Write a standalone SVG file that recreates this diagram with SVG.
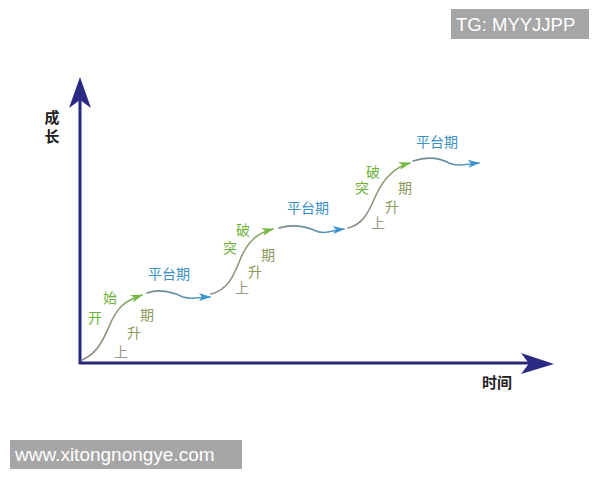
<svg xmlns="http://www.w3.org/2000/svg" width="600" height="480" viewBox="0 0 600 480">
<defs>
<style>
.axis{stroke:#28287a;stroke-width:3;fill:none}
.head{fill:#2b2b85}
.curve{fill:none;stroke-width:1.6;stroke-linecap:round}
.up{stroke:url(#gUp)}
.flat{stroke:url(#gFlat)}
.lab{font-family:"Noto Sans CJK SC","Noto Sans",sans-serif;font-size:14px;text-anchor:middle}
.g1{fill:#6fb23a}
.g2{fill:#8c9a5a}
.g3{fill:#9a9a88}
.blue{fill:#3a8fc4}
.ax{font-family:"Noto Sans CJK SC",sans-serif;font-size:15px;font-weight:bold;fill:#222;text-anchor:middle}
.wm{fill:#a6a6a6}
.wt{font-family:"Liberation Sans",Arial,sans-serif;fill:#fff}
</style>
<linearGradient id="gUp" x1="0" y1="1" x2="1" y2="0">
<stop offset="0" stop-color="#8a8a80"/><stop offset="0.6" stop-color="#8f9a7a"/><stop offset="1" stop-color="#7ab548"/>
</linearGradient>
<linearGradient id="gFlat" x1="0" y1="0" x2="1" y2="0">
<stop offset="0" stop-color="#7a8a8a"/><stop offset="1" stop-color="#4a98c8"/>
</linearGradient>
<marker id="mGreen" viewBox="0 0 12 8" refX="11" refY="4" markerWidth="12" markerHeight="8" orient="auto" markerUnits="userSpaceOnUse">
<path d="M0,0 L12,4 L0,8 L3,4 Z" fill="#78b845"/>
</marker>
<marker id="mBlue" viewBox="0 0 12 8" refX="11" refY="4" markerWidth="13" markerHeight="8" orient="auto" markerUnits="userSpaceOnUse">
<path d="M0,0 L12,4 L0,8 L3,4 Z" fill="#3d97cf"/>
</marker>
</defs>
<rect width="600" height="480" fill="#fff"/>

<g id="axes">
<line class="axis" x1="80" y1="364" x2="80" y2="98"/>
<path class="head" d="M80,77 L91,108 L80,100 L69,108 Z"/>
<line class="axis" x1="79" y1="363" x2="535" y2="363"/>
<path class="head" d="M554,364 L521,353 L529,363.5 L521,374 Z"/>
<text class="ax" x="52" y="123">成</text>
<text class="ax" x="52" y="142">长</text>
<text class="ax" x="497" y="388">时间</text>
</g>

<g id="connectors">
<path class="curve up" d="M82,360 C100,352 105,335 112,320 C120,304 128,300 142,295" marker-end="url(#mGreen)"/>
<path class="curve flat" d="M147,293 C160,288 175,293 183,297 C192,300 198,297 210,297" marker-end="url(#mBlue)"/>
<path class="curve up" d="M211,294 C228,290 234,275 240,260 C248,240 258,233 273,229" marker-end="url(#mGreen)"/>
<path class="curve flat" d="M279,228 C292,224 306,226 316,231 C325,235 332,230 344,229" marker-end="url(#mBlue)"/>
<path class="curve up" d="M348,228 C365,224 370,208 376,195 C384,178 395,167 410,163" marker-end="url(#mGreen)"/>
<path class="curve flat" d="M413,161 C425,157 438,157 449,163 C458,167 466,164 479,163" marker-end="url(#mBlue)"/>
</g>

<g id="stage1">
<text class="lab g1" x="110" y="303">始</text>
<text class="lab g1" x="95" y="323">开</text>
<text class="lab g2" x="147" y="320">期</text>
<text class="lab g2" x="134" y="338">升</text>
<text class="lab g3" x="121" y="357">上</text>
</g>
<g id="plateau1"><text class="lab blue" x="169" y="279">平台期</text></g>

<g id="stage2">
<text class="lab g1" x="243" y="235">破</text>
<text class="lab g1" x="230" y="253">突</text>
<text class="lab g2" x="268" y="260">期</text>
<text class="lab g2" x="255" y="277">升</text>
<text class="lab g3" x="242" y="293">上</text>
</g>
<g id="plateau2"><text class="lab blue" x="308" y="213">平台期</text></g>

<g id="stage3">
<text class="lab g1" x="373" y="177">破</text>
<text class="lab g1" x="362" y="193">突</text>
<text class="lab g2" x="405" y="193">期</text>
<text class="lab g2" x="392" y="212">升</text>
<text class="lab g3" x="378" y="228">上</text>
</g>
<g id="plateau3"><text class="lab blue" x="437" y="147">平台期</text></g>

<g id="wm1">
<rect class="wm" x="451" y="9" width="138" height="30"/>
<text class="wt" x="456" y="31" font-size="18.5">TG: MYYJJPP</text>
</g>
<g id="wm2">
<rect class="wm" x="10" y="440" width="232" height="29"/>
<text class="wt" x="15" y="461" font-size="19">www.xitongnongye.com</text>
</g>
</svg>
